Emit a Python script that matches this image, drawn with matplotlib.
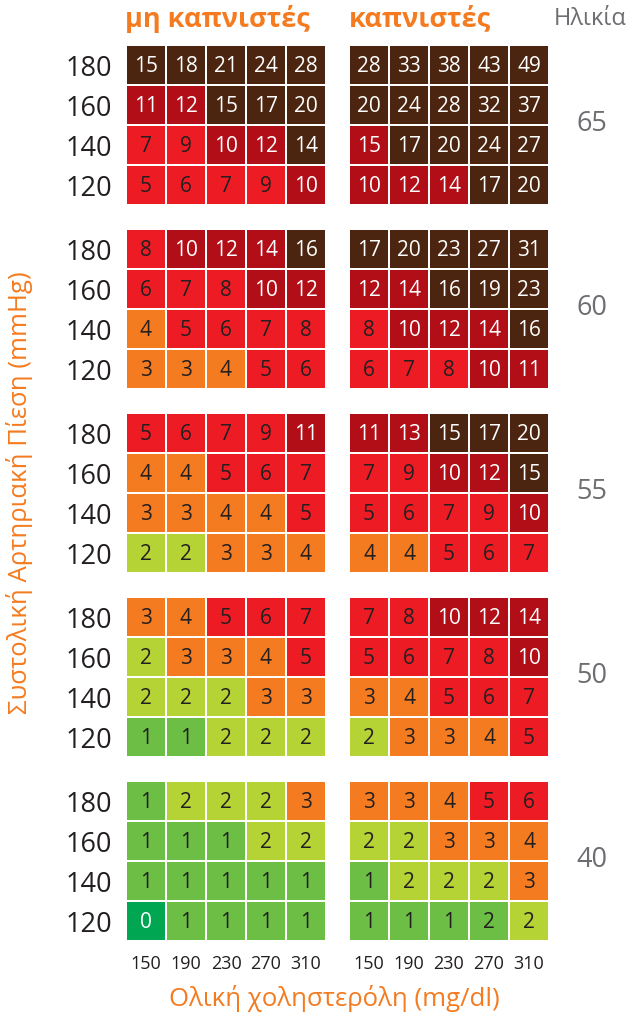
import numpy as np
import matplotlib
matplotlib.use("Agg")
import matplotlib.pyplot as plt
from matplotlib.colors import ListedColormap, BoundaryNorm

plt.rcParams['font.family'] = ['Open Sans', 'DejaVu Sans']

ages = ["65", "60", "55", "50", "40"]
pressure = ["180", "160", "140", "120"]
cholesterol = ["150", "190", "230", "270", "310"]

# risk values (%) per age block, rows = 180..120, cols = 150..310
nonsmoker_values = [
    [[15, 18, 21, 24, 28], [11, 12, 15, 17, 20], [7, 9, 10, 12, 14], [5, 6, 7, 9, 10]],
    [[8, 10, 12, 14, 16], [6, 7, 8, 10, 12], [4, 5, 6, 7, 8], [3, 3, 4, 5, 6]],
    [[5, 6, 7, 9, 11], [4, 4, 5, 6, 7], [3, 3, 4, 4, 5], [2, 2, 3, 3, 4]],
    [[3, 4, 5, 6, 7], [2, 3, 3, 4, 5], [2, 2, 2, 3, 3], [1, 1, 2, 2, 2]],
    [[1, 2, 2, 2, 3], [1, 1, 1, 2, 2], [1, 1, 1, 1, 1], [0, 1, 1, 1, 1]],
]
smoker_values = [
    [[28, 33, 38, 43, 49], [20, 24, 28, 32, 37], [15, 17, 20, 24, 27], [10, 12, 14, 17, 20]],
    [[17, 20, 23, 27, 31], [12, 14, 16, 19, 23], [8, 10, 12, 14, 16], [6, 7, 8, 10, 11]],
    [[11, 13, 15, 17, 20], [7, 9, 10, 12, 15], [5, 6, 7, 9, 10], [4, 4, 5, 6, 7]],
    [[7, 8, 10, 12, 14], [5, 6, 7, 8, 10], [3, 4, 5, 6, 7], [2, 3, 3, 4, 5]],
    [[3, 3, 4, 5, 6], [2, 2, 3, 3, 4], [1, 2, 2, 2, 3], [1, 1, 1, 2, 2]],
]

# colour class of each cell (0 = lowest risk .. 6 = highest)
nonsmoker_class = [
    [[6, 6, 6, 6, 6], [5, 5, 6, 6, 6], [4, 4, 5, 5, 6], [4, 4, 4, 4, 5]],
    [[4, 5, 5, 5, 6], [4, 4, 4, 5, 5], [3, 4, 4, 4, 4], [3, 3, 3, 4, 4]],
    [[4, 4, 4, 4, 5], [3, 3, 4, 4, 4], [3, 3, 3, 3, 4], [2, 2, 3, 3, 3]],
    [[3, 3, 4, 4, 4], [2, 3, 3, 3, 4], [2, 2, 2, 3, 3], [1, 1, 2, 2, 2]],
    [[1, 2, 2, 2, 3], [1, 1, 1, 2, 2], [1, 1, 1, 1, 1], [0, 1, 1, 1, 1]],
]
smoker_class = [
    [[6, 6, 6, 6, 6], [6, 6, 6, 6, 6], [5, 6, 6, 6, 6], [5, 5, 5, 6, 6]],
    [[6, 6, 6, 6, 6], [5, 5, 6, 6, 6], [4, 5, 5, 5, 6], [4, 4, 4, 5, 5]],
    [[5, 5, 6, 6, 6], [4, 4, 5, 5, 6], [4, 4, 4, 4, 5], [3, 3, 4, 4, 4]],
    [[4, 4, 5, 5, 5], [4, 4, 4, 4, 5], [3, 3, 4, 4, 4], [2, 3, 3, 3, 4]],
    [[3, 3, 3, 4, 4], [2, 2, 3, 3, 3], [1, 2, 2, 2, 3], [1, 1, 1, 1, 2]],
]

palette = ["#00a651", "#6dbe45", "#b5d334", "#f47b20", "#ed1c24", "#b20e17", "#4b2510"]
white_text = {0, 5, 6}
cmap = ListedColormap(palette)
norm = BoundaryNorm(np.arange(-0.5, 7.5, 1), cmap.N)

orange = "#f47b20"
grey = "#6d6e71"
dark = "#231f20"

W, H = 636, 1019
fig = plt.figure(figsize=(W / 100, H / 100), dpi=100)

panel_x = [126, 349]
panel_w = 200
block_h = 160
block_top = [45 + 184 * i for i in range(5)]


def draw_panel(ax, vals, cls, show_y, show_x):
    vals = np.array(vals)
    cls = np.array(cls)
    ax.pcolormesh(cls, cmap=cmap, norm=norm, edgecolors="white", linewidth=1.4)
    ax.set_xlim(0, 5)
    ax.set_ylim(4, 0)
    for r in range(4):
        for c in range(5):
            col = "white" if cls[r, c] in white_text else dark
            ax.text(c + 0.5, r + 0.54, str(vals[r, c]), ha="center", va="center",
                    fontsize=15, color=col)
    for s in ax.spines.values():
        s.set_visible(False)
    ax.tick_params(length=0)
    if show_y:
        ax.set_yticks(np.arange(4) + 0.5)
        ax.set_yticklabels(pressure, fontsize=19.5, color=dark)
        ax.tick_params(axis="y", pad=10)
    else:
        ax.set_yticks([])
    if show_x:
        ax.set_xticks(np.arange(5) + 0.5)
        ax.set_xticklabels(cholesterol, fontsize=13, color=dark)
        ax.tick_params(axis="x", pad=10)
    else:
        ax.set_xticks([])


for i, age in enumerate(ages):
    bottom = (H - block_top[i] - block_h) / H
    for j, (vals, cls) in enumerate([(nonsmoker_values[i], nonsmoker_class[i]),
                                     (smoker_values[i], smoker_class[i])]):
        ax = fig.add_axes([panel_x[j] / W, bottom, panel_w / W, block_h / H])
        draw_panel(ax, vals, cls, show_y=(j == 0), show_x=(i == len(ages) - 1))
    fig.text(592 / W, 1 - (block_top[i] + 79) / H, age, ha="center", va="center",
             fontsize=19.5, color=grey)

fig.text(125 / W, 1 - 19 / H, "μη καπνιστές", ha="left", va="center",
         fontsize=19.5, fontweight="bold", color=orange)
fig.text(349 / W, 1 - 19 / H, "καπνιστές", ha="left", va="center",
         fontsize=19.5, fontweight="bold", color=orange)
fig.text(554 / W, 1 - 19 / H, "Ηλικία", ha="left", va="center",
         fontsize=17, color=grey)
fig.text(20 / W, 1 - 493 / H, "Συστολική Αρτηριακή Πίεση (mmHg)", rotation=90,
         ha="center", va="center", fontsize=18.5, color=orange)
fig.text(334 / W, 1 - 999 / H, "Ολική χοληστερόλη (mg/dl)", ha="center", va="center",
         fontsize=18.5, color=orange)

fig.savefig("out.png", dpi=100)
